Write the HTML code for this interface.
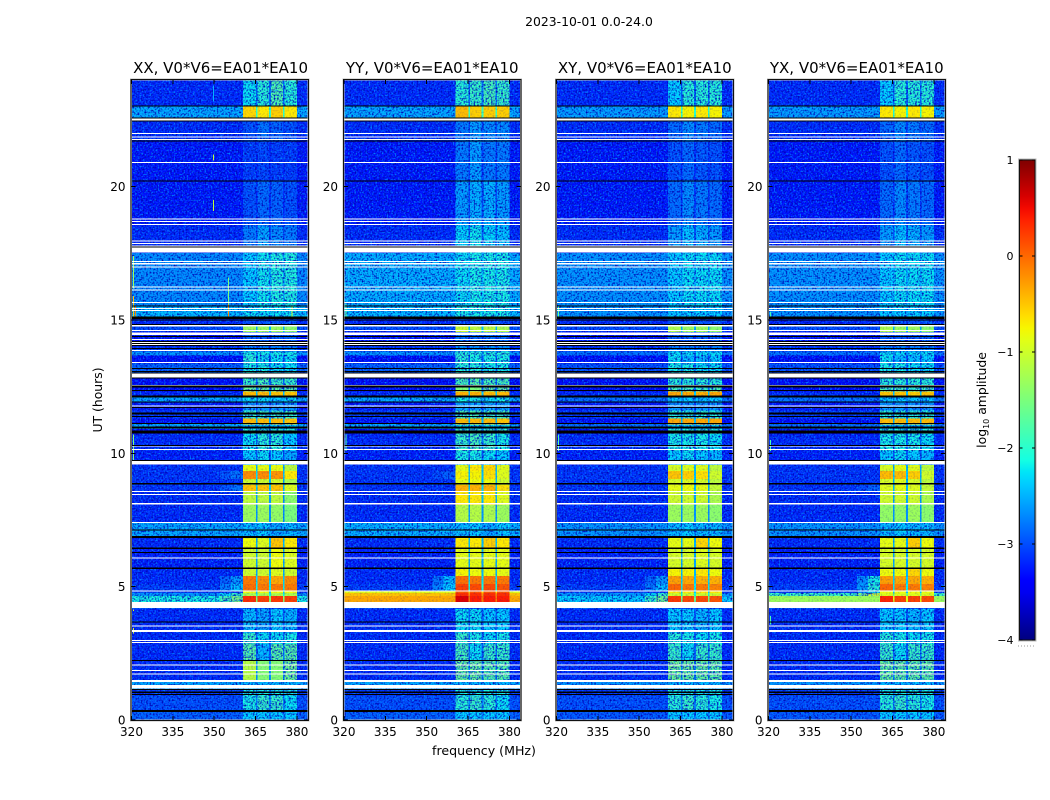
<!DOCTYPE html>
<html>
<head>
<meta charset="utf-8">
<title>2023-10-01 waterfall</title>
<style>
html,body{margin:0;padding:0;background:#fff;width:1050px;height:800px;overflow:hidden}
svg{display:block}
text{font-family:"DejaVu Sans","Liberation Sans",sans-serif;fill:#000}
</style>
</head>
<body>
<svg id="chart" width="1050" height="800" viewBox="0 0 1050 800" xmlns="http://www.w3.org/2000/svg" shape-rendering="crispEdges">
<defs>
<filter id="speckleLight" x="0" y="0" width="100%" height="100%" color-interpolation-filters="sRGB">
<feTurbulence type="fractalNoise" baseFrequency="0.62" numOctaves="1" seed="4"/>
<feColorMatrix type="matrix" values="0 0 0 0 0  0 0 0 0 0.55  0 0 0 0 1  3.2 0 0 0 -1.5"/>
</filter>
<filter id="speckleDark" x="0" y="0" width="100%" height="100%" color-interpolation-filters="sRGB">
<feTurbulence type="fractalNoise" baseFrequency="0.58" numOctaves="1" seed="11"/>
<feColorMatrix type="matrix" values="0 0 0 0 0  0 0 0 0 0  0 0 0 0 0.7  0 3 0 0 -1.4"/>
</filter>
<linearGradient id="jetGradient" x1="0" y1="1" x2="0" y2="0"></linearGradient>
</defs>
<text x="589" y="26" font-size="12.4" text-anchor="middle">2023-10-01 0.0-24.0</text>
<g id="panels"></g>
<text transform="translate(102,400) rotate(-90)" font-size="12.4" text-anchor="middle">UT (hours)</text>
<text x="484" y="755" font-size="12.6" text-anchor="middle">frequency (MHz)</text>
<g id="colorbar"></g>
<text transform="translate(986,400) rotate(-90)" font-size="12.4" text-anchor="middle">log<tspan font-size="8" dy="3">10</tspan><tspan dy="-3"> amplitude</tspan></text>
</svg>
<script>
// ---- data: UT row boundaries (top edge of each row, hours), shared by all baselines
const rowTopUT = [24,23,22.55,21.73,20.19,18.54,17.52,15.5,15.09,14.75,14.56,14,13.81,13.66,13.36,13.02,12.8,12.46,12.31,12.16,11.9,11.6,11.3,11.1,10.92,10.73,10.09,9.57,9.34,9.04,8.82,8.59,8.07,7.39,6.83,6.42,5.67,5.4,5.1,4.84,4.77,4.65,4.39,4.17,3.26,2.85,2.21,1.43,1.13,0.9,0.3];
const panelTitles = ['XX, V0*V6=EA01*EA10','YY, V0*V6=EA01*EA10','XY, V0*V6=EA01*EA10','YX, V0*V6=EA01*EA10'];
const freqTicks = [320,335,350,365,380];
const utTicks = [0,5,10,15,20];
const colorbarTicks = [1,0,-1,-2,-3,-4];
const colorbarLabels = ['1','0','\u22121','\u22122','\u22123','\u22124'];
// frequency edges of the four sub-bands (MHz)
const subbandStart = [360.4,365.7,370.5,375.5];
const subbandEnd = [365.2,369.9,375,380];
// log10 amplitude per row: [background, sub1, sub2, sub3, sub4]
const xxLevels = [[-3.2,-2.2,-2.0,-1.75,-2.0],[-2.5,-.6,-.7,-.55,-.7],[-3.2,-3.0,-2.8,-2.9,-3.0],[-3.3,-3.1,-3.05,-3.1,-3.1],[-3.3,-3.0,-2.85,-2.9,-3.0],[-3.2,-2.75,-2.5,-2.65,-2.75],[-2.65,-2.3,-2.15,-2.05,-2.05],[-2.4,-2.2,-2.2,-2.2,-2.2],[-3.2,-3.0,-3.0,-3.0,-3.0],[-3.0,-1.3,-1.3,-1.3,-1.4],[-3.3,-2.9,-2.9,-2.9,-2.9],[-3.1,-2.7,-2.7,-2.7,-2.7],[-2.6,-2.1,-2.1,-2.1,-2.1],[-3.35,-2.0,-2.2,-2.2,-2.2],[-2.9,-2.1,-2.1,-2.2,-2.2],[-3.3,-2.5,-2.5,-2.5,-2.5],[-3.35,-1.9,-1.8,-1.9,-1.9],[-3.35,-1.6,-1.6,-1.7,-1.7],[-3.2,-.45,-.45,-.5,-.5],[-2.5,-2.2,-2.2,-2.3,-2.2],[-3.3,-2.6,-2.6,-2.6,-2.6],[-3.1,-1.9,-1.9,-1.9,-1.9],[-3.35,-.45,-.45,-.45,-.5],[-2.5,-2.3,-2.3,-2.3,-2.3],[-3.35,-2.0,-2.0,-2.0,-2.0],[-3.2,-2.2,-2.0,-2.0,-2.3],[-3.25,-2.3,-2.2,-2.3,-2.5],[-3.15,-.85,-.85,-.85,-1.1],[-3.15,-.2,-.2,-.25,-.7],[-3.15,-1.0,-1.0,-1.0,-1.2],[-3.15,-.5,-.5,-.5,-.9],[-3.2,-1.1,-1.1,-1.1,-1.4],[-3.2,-1.3,-1.3,-1.35,-1.5],[-2.5,-2.4,-2.3,-2.5,-2.4],[-3.2,-.8,-.9,-.5,-.7],[-3.25,-1.0,-1.0,-.8,-.9],[-3.2,-1.0,-1.0,-.9,-1.0],[-3.2,-.1,-.2,-.35,-.2],[-3.1,-.05,-.1,-.1,-.1],[-3.1,-.8,-.8,-.8,-.8],[-2.6,-1.2,-1.2,-1.2,-1.2],[-2.1,.3,.2,.25,.2],[-3,-3,-3,-3,-3],[-3.2,-2.4,-2.5,-2.3,-2.4],[-3.2,-1.9,-2.2,-2.2,-2.1],[-3.2,-1.7,-2.4,-1.7,-1.7],[-3.2,-1.15,-1.45,-1.45,-1.55],[-2.5,-2.4,-2.4,-2.4,-2.4],[-3.1,-2.1,-2.1,-2.1,-2.1],[-3.0,-2.1,-1.9,-1.9,-2.2],[-2.9,-2.3,-2.3,-2.3,-2.3]];
const yyLevels = [[-3.2,-2.0,-1.9,-1.8,-1.9],[-2.5,-.45,-.55,-.55,-.55],[-3.2,-2.75,-2.55,-2.65,-2.65],[-3.3,-2.75,-2.55,-2.75,-2.75],[-3.3,-2.55,-2.45,-2.45,-2.55],[-3.2,-2.25,-2.15,-2.25,-2.35],[-2.45,-2.2,-2.1,-2.1,-2.1],[-2.4,-2.1,-2.1,-2.1,-2.1],[-3.2,-3.0,-3.0,-3.0,-3.0],[-3.0,-1.0,-1.1,-1.1,-1.2],[-3.3,-2.8,-2.8,-2.8,-2.8],[-3.1,-2.6,-2.6,-2.6,-2.6],[-2.6,-2.0,-2.0,-2.0,-2.0],[-3.35,-2.0,-2.1,-2.1,-2.1],[-2.9,-2.0,-2.0,-2.1,-2.1],[-3.3,-2.4,-2.4,-2.4,-2.4],[-3.35,-1.8,-1.7,-1.8,-1.8],[-3.35,-1.5,-1.5,-1.6,-1.6],[-3.2,-.4,-.4,-.45,-.45],[-2.5,-2.1,-2.1,-2.2,-2.1],[-3.3,-2.5,-2.5,-2.5,-2.5],[-3.1,-1.8,-1.8,-1.8,-1.8],[-3.35,-.45,-.45,-.45,-.5],[-2.5,-2.2,-2.2,-2.2,-2.2],[-3.35,-1.9,-1.9,-1.9,-1.9],[-3.2,-1.9,-1.8,-1.9,-2.1],[-3.25,-2.1,-2.1,-2.2,-2.3],[-3.15,-.85,-.7,-.6,-.9],[-3.15,-.75,-.75,-.65,-.9],[-3.15,-.85,-.8,-.8,-1.0],[-3.15,-.4,-.4,-.4,-.65],[-3.2,-.7,-.7,-.7,-.9],[-3.2,-1.15,-1.15,-1.2,-1.3],[-2.45,-2.4,-2.3,-2.5,-2.3],[-3.2,-.7,-.7,-.55,-.7],[-3.25,-.85,-.85,-.85,-.85],[-3.2,-.75,-.8,-.8,-.85],[-3.2,-.05,-.1,-.1,-.1],[-3.1,.2,.15,.15,.1],[-.9,.1,.1,.1,.1],[-.5,.3,.3,.3,.3],[-.35,.6,.4,.4,.4],[-3,-3,-3,-3,-3],[-3.2,-2.2,-2.2,-2.3,-2.3],[-3.2,-1.9,-2.1,-2.2,-2.1],[-3.2,-1.8,-2.2,-1.9,-1.9],[-3.2,-1.6,-1.6,-1.7,-1.7],[-2.5,-2.4,-2.4,-2.4,-2.4],[-3.1,-2.1,-2.1,-2.1,-2.1],[-3.0,-2.0,-1.9,-2.0,-2.2],[-2.9,-2.3,-2.3,-2.3,-2.3]];
const xyLevels = [[-3.2,-2.3,-2.0,-2.0,-2.0],[-2.55,-.7,-.75,-.7,-.75],[-3.2,-2.85,-2.65,-2.75,-2.85],[-3.3,-3.0,-2.85,-2.95,-3.0],[-3.3,-2.85,-2.65,-2.75,-2.85],[-3.2,-2.55,-2.35,-2.45,-2.55],[-2.6,-2.3,-2.2,-2.2,-2.2],[-2.6,-2.3,-2.3,-2.3,-2.3],[-3.2,-3.0,-3.0,-3.0,-3.0],[-3.0,-1.2,-1.3,-1.3,-1.4],[-3.3,-2.9,-2.9,-2.9,-2.9],[-3.1,-2.7,-2.7,-2.7,-2.7],[-2.8,-2.2,-2.2,-2.2,-2.2],[-3.35,-2.2,-2.4,-2.4,-2.3],[-3.0,-2.1,-2.1,-2.2,-2.2],[-3.3,-2.5,-2.5,-2.5,-2.5],[-3.35,-2.0,-2.0,-2.0,-2.0],[-3.35,-1.8,-1.8,-1.9,-1.8],[-3.2,-.35,-.35,-.4,-.35],[-2.8,-2.3,-2.3,-2.3,-2.3],[-3.3,-2.6,-2.6,-2.6,-2.6],[-3.1,-2.0,-2.0,-2.0,-2.0],[-3.35,-.35,-.35,-.35,-.35],[-2.8,-2.3,-2.3,-2.3,-2.3],[-3.35,-2.0,-2.0,-2.0,-2.0],[-3.2,-2.1,-2.1,-2.1,-2.2],[-3.25,-2.3,-2.2,-2.3,-2.4],[-3.15,-.95,-.9,-.9,-1.1],[-3.15,-.5,-.55,-.65,-1.0],[-3.15,-.95,-.9,-.95,-1.1],[-3.15,-.85,-.8,-.85,-1.05],[-3.2,-1.0,-1.0,-1.0,-1.2],[-3.2,-1.3,-1.3,-1.3,-1.4],[-2.6,-2.4,-2.3,-2.4,-2.4],[-3.2,-.85,-.85,-.6,-.8],[-3.25,-.95,-.95,-.9,-.95],[-3.2,-.75,-.75,-.7,-.8],[-3.2,-.3,-.35,-.4,-.4],[-3.1,-.0,-.1,-.1,-.15],[-3.1,-.7,-.7,-.7,-.7],[-2.6,-1.0,-1.0,-1.0,-1.0],[-2.3,.25,.15,.15,.1],[-3,-3,-3,-3,-3],[-3.2,-2.3,-2.3,-2.4,-2.3],[-3.2,-2.0,-2.1,-2.2,-2.1],[-3.2,-1.9,-2.2,-1.9,-1.9],[-3.2,-1.55,-1.6,-1.6,-1.65],[-2.6,-2.4,-2.4,-2.4,-2.4],[-3.1,-2.1,-2.1,-2.1,-2.1],[-3.0,-2.0,-1.9,-2.0,-2.1],[-2.95,-2.3,-2.3,-2.3,-2.3]];
const yxLevels = [[-3.2,-2.3,-2.0,-2.0,-2.0],[-2.55,-.7,-.75,-.7,-.75],[-3.2,-2.85,-2.65,-2.75,-2.85],[-3.3,-3.0,-2.85,-2.95,-3.0],[-3.3,-2.85,-2.65,-2.75,-2.85],[-3.2,-2.55,-2.35,-2.45,-2.55],[-2.6,-2.3,-2.2,-2.2,-2.2],[-2.6,-2.3,-2.3,-2.3,-2.3],[-3.2,-3.0,-3.0,-3.0,-3.0],[-3.0,-1.2,-1.3,-1.3,-1.4],[-3.3,-2.9,-2.9,-2.9,-2.9],[-3.1,-2.7,-2.7,-2.7,-2.7],[-2.8,-2.2,-2.2,-2.2,-2.2],[-3.35,-2.2,-2.4,-2.4,-2.3],[-3.0,-2.1,-2.1,-2.2,-2.2],[-3.3,-2.5,-2.5,-2.5,-2.5],[-3.35,-2.0,-2.0,-2.0,-2.0],[-3.35,-1.8,-1.8,-1.9,-1.8],[-3.2,-.5,-.5,-.55,-.5],[-2.8,-2.3,-2.3,-2.3,-2.3],[-3.3,-2.6,-2.6,-2.6,-2.6],[-3.1,-2.0,-2.0,-2.0,-2.0],[-3.35,-.45,-.45,-.45,-.45],[-2.8,-2.3,-2.3,-2.3,-2.3],[-3.35,-2.0,-2.0,-2.0,-2.0],[-3.2,-2.1,-2.1,-2.1,-2.2],[-3.25,-2.3,-2.2,-2.3,-2.4],[-3.15,-.95,-.85,-.9,-1.1],[-3.15,-.45,-.45,-.55,-1.0],[-3.15,-.95,-.9,-.95,-1.1],[-3.15,-.9,-.85,-.9,-1.05],[-3.2,-1.0,-1.0,-1.0,-1.2],[-3.2,-1.35,-1.35,-1.3,-1.4],[-2.6,-2.4,-2.3,-2.4,-2.4],[-3.2,-.85,-.85,-.55,-.8],[-3.25,-.95,-.95,-.95,-.95],[-3.2,-.8,-.8,-.6,-.8],[-3.2,-.3,-.35,-.35,-.4],[-3.1,.0,-.1,-.1,-.15],[-3.1,-.8,-.8,-.8,-.8],[-1.9,-.9,-.9,-.9,-.9],[-1.3,.35,.2,.2,.15],[-3,-3,-3,-3,-3],[-3.2,-2.3,-2.3,-2.4,-2.3],[-3.2,-2.0,-2.1,-2.2,-2.1],[-3.2,-1.9,-2.2,-1.9,-1.9],[-3.2,-1.6,-1.65,-1.65,-1.65],[-2.6,-2.4,-2.4,-2.4,-2.4],[-3.1,-2.1,-2.1,-2.1,-2.1],[-3.0,-2.0,-1.9,-2.0,-2.1],[-2.95,-2.3,-2.3,-2.3,-2.3]];
const panelLevels = [xxLevels,yyLevels,xyLevels,yxLevels];
// emission leaking below the band edge (355-360.4 MHz): panel, row, level
const rampPanel = [0,0,0,0,0,0,1,1,1,1,1,2,2,2,2,3,3,3,3,3,3];
const rampRow = [28,30,37,38,40,41,28,37,38,40,41,37,38,40,41,37,38,39,40,41,30];
const rampLevel = [-2.8,-2.8,-2.6,-2.4,-1.9,-1.5,-2.9,-2.4,-2.3,-.4,.0,-2.6,-2.4,-1.9,-1.5,-2.1,-2.0,-2.2,-1.0,-.7,-2.9];
// narrow-band interference streaks: panel, MHz, UT start, UT end, level
const rfiPanel = [0,0,0,0,0,0,0,0,0,0,1,1,2,2,3,3,3,0,0,0];
const rfiFreq = [320.6,321.2,355,320.6,320.6,320.6,349.6,349.6,320.6,320.6,320.6,320.6,320.6,320.6,320.6,320.6,320.6,349.6,355,378];
const rfiFrom = [15.12,15.12,15.12,16.2,9.75,3.25,19.1,21,4.1,10.1,15.1,10.1,15.1,10.1,15.1,10.1,3.6,23.2,15.6,15.1];
const rfiTo = [15.9,15.5,15.95,17.4,10.7,3.45,19.5,21.2,4.15,10.7,15.6,10.7,15.5,10.7,15.3,10.5,3.9,23.8,16.6,15.5];
const rfiLevel = [-.5,-.1,-.2,-1.3,-1.5,-.9,-1.1,-1.1,-.9,-1.5,-1.6,-1.7,-1.6,-1.7,-1.8,-1.8,-1.8,-2.5,-1.5,-1.0];
// flagged (missing) integrations: UT centre and duration
const whiteUT = [22.52,21.99,21.86,21.77,20.9,18.78,18.69,18.58,17.96,17.87,17.78,17.62,17.2,17.11,16.98,16.23,16.13,15.66,15.43,15.36,15.07,14.79,14.61,14.49,14.27,14.16,14.08,13.85,13.4,12.92,12.55,11.77,10.27,10.14,9.64,8.57,8.45,8.11,7.4,6.07,4.83,4.31,3.52,3.33,2.98,2.91,2.07,1.85,1.73,1.47,1.25];
const whiteSpan = [.08,.045,.045,.045,.04,.04,.04,.04,.04,.04,.04,.19,.04,.04,.04,.04,.04,.04,.04,.04,.04,.05,.04,.09,.04,.04,.04,.04,.04,.17,.04,.04,.04,.04,.13,.04,.04,.04,.04,.04,.04,.23,.04,.075,.04,.04,.04,.04,.04,.075,.13];
const blackUT = [23.03,22.58,22.47,21.72,20.22,17.73,15.53,15.12,15.06,15.0,14.83,14.38,14.19,14.12,14.04,13.93,13.18,13.07,13.01,12.82,12.51,12.36,12.13,11.92,11.72,11.49,11.38,11.12,10.97,10.8,10.29,9.73,8.86,7.12,6.86,6.44,6.28,5.69,3.68,2.23,1.14,1.04,.96,.34];
const blackSpan = [.04,.04,.04,.04,.04,.04,.04,.04,.06,.04,.04,.05,.04,.04,.04,.04,.04,.04,.05,.04,.08,.04,.08,.04,.04,.08,.04,.04,.08,.1,.04,.04,.04,.04,.08,.04,.04,.04,.04,.04,.04,.04,.04,.08];

// ---- geometry / axis functions
const SVGNS = 'http://www.w3.org/2000/svg';
const panelLeft = [131.5,344,556.5,768.5];
const panelWidth = 176.5, plotTop = 80, plotBottom = 720;
const yOf = ut => plotBottom - (ut/24)*(plotBottom-plotTop);
const xOf = (p,f) => panelLeft[p] + (f-320)/(384-320)*panelWidth;
const cbTop = 160, cbBottom = 640, cbLeft = 1019.5, cbWidth = 15.5;
const cbY = v => cbBottom - (v+4)/5*(cbBottom-cbTop);
const brightLimit = -1.5;

function jet(v){
  const t = Math.max(0,Math.min(1,(v+4)/5));
  const seg = (pts)=>{for(let i=1;i<pts.length;i++){if(t<=pts[i][0]){const a=pts[i-1],b=pts[i];return a[1]+(b[1]-a[1])*(t-a[0])/(b[0]-a[0]);}}return pts[pts.length-1][1];};
  const r = seg([[0,0],[.35,0],[.66,1],[.89,1],[1,.5]]);
  const g = seg([[0,0],[.125,0],[.375,1],[.64,1],[.91,0],[1,0]]);
  const b = seg([[0,.5],[.11,1],[.34,1],[.65,0],[1,0]]);
  return 'rgb('+Math.round(r*255)+','+Math.round(g*255)+','+Math.round(b*255)+')';
}
function mk(tag,attrs,parent){
  const el = document.createElementNS(SVGNS,tag);
  for(const k in attrs) el.setAttribute(k,attrs[k]);
  parent.appendChild(el);
  return el;
}
const panelsG = document.getElementById('panels');
const rowBottom = i => (i+1<rowTopUT.length ? rowTopUT[i+1] : 0);

panelTitles.forEach((title,p)=>{
  const g = mk('g',{},panelsG);
  
  
  const left = panelLeft[p], right = left+panelWidth;
  const levels = panelLevels[p];
  const cell = (f0,f1,u0,u1,v,name)=>{
    const x0 = xOf(p,f0), x1 = xOf(p,f1), y0 = yOf(u0), y1 = yOf(u1);
    const r = mk('rect',{x:x0.toFixed(2),y:y0.toFixed(2),width:(x1-x0).toFixed(2),height:(y1-y0+0.3).toFixed(2),fill:jet(v)},g);
    
    
    return r;
  };
  const drawRamps = ()=>{
    rampPanel.forEach((rp,k)=>{
      if(rp!==p) return;
      const i = rampRow[k];
      const bg = levels[i][0];
      cell(352,356,rowTopUT[i],rowBottom(i),bg+0.5*(rampLevel[k]-bg),'heatmap-ramp-cell');
      cell(356,360.4,rowTopUT[i],rowBottom(i),rampLevel[k],'heatmap-ramp-cell');
    });
  };
  // faint structure sits beneath the noise texture, strong signal above it
  const drawBands = (bright)=>{
    levels.forEach((row,i)=>{
      const u0 = rowTopUT[i], u1 = rowBottom(i);
      if((row[0]>=brightLimit)===bright) cell(320,384,u0,u1,row[0],'heatmap-background-cell');
      subbandStart.forEach((s,b)=>{
        const e = subbandEnd[b];
        if((row[b+1]>=brightLimit)===bright) cell(s,e,u0,u1,row[b+1],'heatmap-subband-cell');
        if(b<3){
          const low = Math.min(row[b+1],row[b+2]);
          const gap = row[0]+0.3*(low-row[0]);
          if((low>=brightLimit)===bright) cell(e,subbandStart[b+1],u0,u1,gap,'heatmap-gap-cell');
        }
      });
    });
  };
  drawBands(false);
  drawRamps();
  const sp1 = mk('rect',{x:left,y:plotTop,width:panelWidth,height:plotBottom-plotTop,filter:'url(#speckleLight)'},g);
  
  
  const sp2 = mk('rect',{x:left,y:plotTop,width:panelWidth,height:plotBottom-plotTop,filter:'url(#speckleDark)'},g);
  
  
  drawBands(true);
  const sp3 = mk('rect',{x:left,y:plotTop,width:panelWidth,height:plotBottom-plotTop,filter:'url(#speckleDark)',opacity:0.22},g);
  
  
  rfiPanel.forEach((rp,k)=>{
    if(rp!==p) return;
    cell(rfiFreq[k],rfiFreq[k]+0.36,rfiTo[k],rfiFrom[k],rfiLevel[k],'rfi-streak');
  });
  whiteUT.forEach((u,k)=>{
    const h = whiteSpan[k]*26.667;
    const r = mk('rect',{x:left,y:(yOf(u)-h/2).toFixed(2),width:panelWidth,height:h.toFixed(2),fill:'#fff'},g);
    
    
  });
  blackUT.forEach((u,k)=>{
    const h = blackSpan[k]*26.667;
    const r = mk('rect',{x:left,y:(yOf(u)-h/2).toFixed(2),width:panelWidth,height:h.toFixed(2),fill:'#000'},g);
    
    
  });
  const halo = mk('rect',{x:left-0.5,y:plotTop-0.5,width:panelWidth+1,height:plotBottom-plotTop+1,fill:'none',stroke:'#bbb','stroke-width':2.4},g);
  
  
  const frame = mk('rect',{x:left-0.5,y:plotTop-0.5,width:panelWidth+1,height:plotBottom-plotTop+1,fill:'none',stroke:'#111','stroke-width':1},g);
  
  
  const ttl = mk('text',{x:left+panelWidth/2+(p===0?0.8:0),y:73,'font-size':15,'text-anchor':'middle'},g);
  ttl.textContent = title;
  
  
  freqTicks.forEach(f=>{
    const x = xOf(p,f);
    const t1 = mk('line',{x1:x,x2:x,y1:plotBottom,y2:plotBottom-4,stroke:'#000'},g);
    
    
    const t2 = mk('line',{x1:x,x2:x,y1:plotTop,y2:plotTop+4,stroke:'#000'},g);
    
    
    const lb = mk('text',{x:x,y:736,'font-size':12,'text-anchor':'middle'},g);
    lb.textContent = String(f);
    
    
  });
  utTicks.forEach(u=>{
    const y = yOf(u);
    const t1 = mk('line',{x1:left,x2:left+4,y1:y,y2:y,stroke:'#000'},g);
    
    
    const t2 = mk('line',{x1:right,x2:right-4,y1:y,y2:y,stroke:'#000'},g);
    
    
    const lb = mk('text',{x:left-6,y:y+4.5,'font-size':12,'text-anchor':'end'},g);
    lb.textContent = String(u);
    
    
  });
});

// ---- colorbar
const grad = document.getElementById('jetGradient');
for(let i=0;i<=40;i++){
  mk('stop',{offset:(i/40),'stop-color':jet(-4+5*i/40)},grad);
}
const cb = document.getElementById('colorbar');
const cbRect = mk('rect',{x:cbLeft,y:cbTop,width:cbWidth,height:cbBottom-cbTop,fill:'url(#jetGradient)',stroke:'#111','stroke-width':1},cb);


const cbHalo = mk('rect',{x:cbLeft-1,y:cbTop-1,width:cbWidth+2,height:cbBottom-cbTop+2,fill:'none',stroke:'#bbb','stroke-width':1},cb);


colorbarTicks.forEach((v,i)=>{
  const y = cbY(v);
  const t1 = mk('line',{x1:cbLeft,x2:cbLeft+3,y1:y,y2:y,stroke:'#000'},cb);
  
  
  const t2 = mk('line',{x1:cbLeft+cbWidth,x2:cbLeft+cbWidth-3,y1:y,y2:y,stroke:'#000'},cb);
  
  
  const lb = mk('text',{x:1013.5,y:y+4,'font-size':11,'text-anchor':'end'},cb);
  lb.textContent = colorbarLabels[i];
  
  
});
[0,1,2,3,4,5].forEach(i=>{
  const d = mk('rect',{x:1018+i*3,y:645.5,width:1,height:1,fill:'#999'},cb);
  
  
});
</script>
</body>
</html>
